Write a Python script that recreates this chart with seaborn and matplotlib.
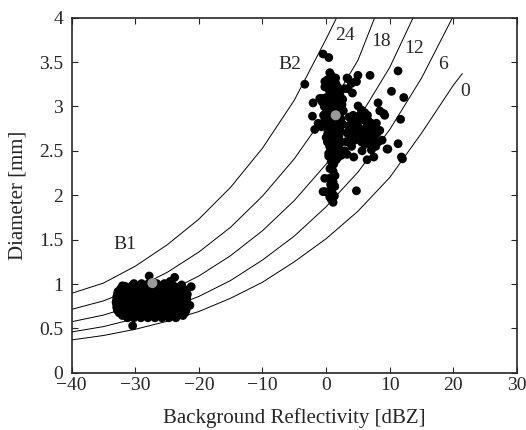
import numpy as np
import pandas as pd
import matplotlib
matplotlib.use("Agg")
import matplotlib.pyplot as plt
import seaborn as sns

# reference curves: background reflectivity [dBZ] -> diameter [mm], one per offset label
curve_labels = ["0", "6", "12", "18", "24"]
curve_dbz = {
    "0":  [-40, -35, -30, -25, -20, -15, -10, -5, 0, 5, 10, 15, 20, 21.4],
    "6":  [-40, -35, -30, -25, -20, -15, -10, -5, 0, 5, 10, 15, 20],
    "12": [-40, -35, -30, -25, -20, -15, -10, -5, 0, 5, 10, 14],
    "18": [-40, -35, -30, -25, -20, -15, -10, -5, 0, 5, 7.8],
    "24": [-40, -35, -30, -25, -20, -15, -10, -5, 0, 2],
}
curve_diam = {
    "0":  [0.37, 0.42, 0.49, 0.58, 0.69, 0.84, 1.02, 1.25, 1.51, 1.82, 2.20, 2.70, 3.24, 3.37],
    "6":  [0.46, 0.52, 0.61, 0.72, 0.86, 1.04, 1.27, 1.54, 1.87, 2.26, 2.74, 3.32, 4.02],
    "12": [0.575, 0.65, 0.76, 0.91, 1.09, 1.32, 1.60, 1.94, 2.35, 2.85, 3.44, 4.05],
    "18": [0.714, 0.81, 0.95, 1.13, 1.36, 1.64, 1.99, 2.41, 2.92, 3.52, 4.03],
    "24": [0.895, 1.01, 1.20, 1.44, 1.73, 2.09, 2.53, 3.07, 3.76, 4.05],
}
# where the curve labels sit
label_dbz = [21.8, 18.4, 13.9, 8.7, 2.9]
label_diam = [3.17, 3.47, 3.65, 3.73, 3.80]

# B1 cluster (dense blob), rows of diameter -> reflectivities
b1_rows = {
    1.005: [-30.2, -29.0, -27.9, -26.6, -25.4, -24.3],
    0.975: [-31.6, -30.6, -29.5, -28.4, -27.3, -26.2, -25.0, -23.9, -22.9],
    0.945: [-32.3, -31.2, -30.1, -29.0, -27.9, -26.8, -25.7, -24.5, -23.4, -22.4],
    0.915: [-32.7, -31.7, -30.6, -29.5, -28.4, -27.3, -26.2, -25.1, -24.0, -22.9, -22.0],
    0.885: [-32.8, -32.2, -31.1, -30.0, -28.9, -27.8, -26.7, -25.6, -24.5, -23.4, -22.4, -21.8],
    0.855: [-32.9, -31.7, -30.6, -29.5, -28.4, -27.3, -26.2, -25.1, -24.0, -22.9, -21.9],
    0.825: [-32.9, -32.2, -31.1, -30.0, -28.9, -27.8, -26.7, -25.6, -24.5, -23.4, -22.4, -21.9],
    0.795: [-33.0, -31.7, -30.6, -29.5, -28.4, -27.3, -26.2, -25.1, -24.0, -22.9, -22.0],
    0.765: [-32.9, -32.2, -31.1, -30.0, -28.9, -27.8, -26.7, -25.6, -24.5, -23.4, -22.4, -21.9],
    0.735: [-32.9, -31.7, -30.6, -29.5, -28.4, -27.3, -26.2, -25.1, -24.0, -22.9, -22.0],
    0.705: [-32.8, -32.1, -31.1, -30.0, -28.9, -27.8, -26.7, -25.6, -24.5, -23.4, -22.4, -22.0],
    0.675: [-32.5, -31.5, -30.5, -29.4, -28.3, -27.2, -26.1, -25.0, -23.9, -22.9, -22.2],
    0.645: [-32.0, -31.0, -29.9, -28.8, -27.7, -26.6, -25.5, -24.4, -23.3, -22.5],
    0.62:  [-31.2, -30.2, -29.1, -28.0, -26.9, -25.8, -24.7, -23.6],
}
b1_extra_dbz = [-27.8, -23.8, -21.2, -21.4, -30.4, -22.7, -32.0, -24.5]
b1_extra_diam = [1.09, 1.075, 0.97, 0.76, 0.53, 0.99, 0.98, 1.03]

# B2 cluster
b2_dbz = [
    0.2, 1.0, 1.8, 0.5, 1.4, 2.2, 0.0, 0.9, 1.7, 2.5, -0.3, 0.6, 1.2, 2.0, 0.3, 0.9, 2.2,
    -0.2, 0.5, 1.9, 2.6, 0.1, 1.0, 1.6, 2.3, 0.4, 1.2, 2.0, 0.7, 1.5, 0.2, 1.1, 1.9, 0.6,
    1.4, 0.9, 1.7, 0.4, 1.2, 2.1, 2.4, 0.0, -0.4, -0.6, 2.7, 1.5, 0.8, 1.3, 0.7, 1.8, 0.3,
    1.1, 1.6, 2.1, 0.8, 1.3, 0.5, 1.6, 2.4,
    -0.2, 0.6, 1.4, 2.2, 0.1, 0.9, 1.7, 2.4, -0.1, 0.7, 1.5, 2.3, 0.3, 1.1, 1.9,
    0.2, 1.0, 1.8, 0.5, 1.3, 2.0, 0.4, 1.2, 1.9, 0.8, 1.5, 0.3, 1.0, 1.7,
    -1.0, -2.05, -2.15, -1.79, -1.26, -0.74, -0.2, 0.57, 1.2, -3.35, -0.48, 0.42, -0.73,
    3.45, 5.0, 4.66, 6.9, 11.3, 3.29, 3.98, 4.77, 3.45, 4.14, 10.27, 12.2, 8.16, 8.43,
    9.06, 9.2, 11.7, 2.9, 2.6,
    5.02, 5.55, 6.07, 5.29, 4.24, 3.98, 4.76, 5.81, 6.60, 7.12, 6.33, 7.38, 7.90, 8.43,
    7.12, 5.81, 5.02, 4.24, 3.72, 4.50, 5.55, 6.33, 6.86, 6.07, 8.17, 7.12, 5.65, 4.34,
    3.30, 6.44, 7.49, 9.58, 11.31, 11.83, 11.99, 4.76, 9.7,
    6.5, 7.5, 5.3, 4.0, 3.5, 3.2, 2.9, 6.8, 5.0, 4.4, 7.8, 8.8,
    3.6, 4.6, 5.6, 6.6, 7.6, 4.1, 5.1, 6.1, 7.1, 3.3, 4.3, 5.4, 6.4, 7.3, 8.0,
    0.6, 1.1, 1.4, 0.5, 1.1, 1.36, 0.9, 0.4, 1.0, 1.3, 0.83, 1.1, 0.7, 1.2, 0.8, -0.22,
    -0.48, -0.21, 0.57,
]
b2_diam = [
    3.30, 3.25, 3.22, 3.18, 3.15, 3.12, 3.10, 3.08, 3.05, 3.02, 3.00, 2.98, 2.96, 2.94,
    2.92, 2.88, 2.87, 2.85, 2.83, 2.82, 2.80, 2.78, 2.76, 2.74, 2.72, 2.70, 2.68, 2.66,
    2.64, 2.62, 2.60, 2.58, 2.56, 2.54, 2.52, 2.48, 2.46, 2.44, 2.42, 2.50, 2.60, 2.65,
    2.90, 3.05, 2.95, 3.32, 3.35, 2.90, 2.80, 2.95, 3.02, 3.12, 2.85, 2.76, 2.70, 2.55,
    2.58, 2.40, 2.45,
    3.22, 3.22, 3.20, 3.18, 3.06, 3.04, 3.02, 3.00, 2.92, 2.90, 2.88, 2.86, 2.80, 2.78, 2.76,
    2.68, 2.66, 2.64, 2.57, 2.55, 2.53, 2.47, 2.45, 2.43, 3.28, 3.26, 2.72, 2.72, 2.70,
    3.09, 3.04, 2.89, 2.74, 2.81, 2.77, 3.28, 3.38, 3.28, 3.25, 3.59, 3.55, 3.09,
    3.31, 3.35, 3.28, 3.35, 3.40, 3.32, 3.26, 3.28, 3.20, 3.15, 3.17, 3.10, 3.04, 2.95,
    2.92, 2.90, 2.855, 3.20, 3.08,
    3.005, 2.96, 2.93, 2.90, 2.90, 2.85, 2.83, 2.85, 2.83, 2.81, 2.77, 2.75, 2.81, 2.73,
    2.70, 2.72, 2.70, 2.73, 2.68, 2.62, 2.60, 2.62, 2.58, 2.57, 2.60, 2.51, 2.50, 2.43,
    2.46, 2.40, 2.43, 2.52, 2.58, 2.43, 2.41, 2.05, 2.52,
    2.90, 2.65, 2.65, 2.55, 2.78, 2.60, 2.50, 2.72, 2.78, 2.76, 2.55, 2.62,
    2.88, 2.88, 2.86, 2.84, 2.78, 2.76, 2.74, 2.70, 2.66, 2.70, 2.64, 2.68, 2.66, 2.60, 2.70,
    2.30, 2.27, 2.22, 2.19, 2.15, 2.10, 2.08, 2.04, 2.02, 1.99, 1.95, 1.92, 2.12, 2.35,
    2.38, 2.19, 2.04, 2.04, 1.98,
]

# cluster means (grey markers)
mean_dbz = [-27.3, 1.5]
mean_diam = [1.01, 2.90]
cluster_names = ["B1", "B2"]
cluster_label_dbz = [-31.6, -5.7]
cluster_label_diam = [1.44, 3.47]

b1_dbz = [x for d, xs in b1_rows.items() for x in xs] + b1_extra_dbz
b1_diam = [d for d, xs in b1_rows.items() for _ in xs] + b1_extra_diam

sns.set_style("ticks")
plt.rcParams["font.family"] = ["Liberation Serif", "DejaVu Serif"]
plt.rcParams["axes.linewidth"] = 1.2
plt.rcParams["xtick.direction"] = "in"
plt.rcParams["ytick.direction"] = "in"

fig, ax = plt.subplots(figsize=(5.26, 4.30), dpi=100)
fig.subplots_adjust(left=0.136, right=0.983, bottom=0.133, top=0.959)

for lab in curve_labels:
    sns.lineplot(x=curve_dbz[lab], y=curve_diam[lab], ax=ax, color="black",
                 linewidth=0.7, sort=False, estimator=None)

pts = pd.DataFrame({"dbz": b1_dbz + b2_dbz, "diam": b1_diam + b2_diam})
sns.scatterplot(data=pts, x="dbz", y="diam", ax=ax, color="black", s=40,
                edgecolor="none", linewidth=0, zorder=3)
sns.scatterplot(x=mean_dbz, y=mean_diam, ax=ax, color="#999999", s=52,
                edgecolor="none", linewidth=0, zorder=4)

for lab, x, y in zip(curve_labels, label_dbz, label_diam):
    ax.text(x, y, lab, ha="center", va="center", fontsize=14)
for name, x, y in zip(cluster_names, cluster_label_dbz, cluster_label_diam):
    ax.text(x, y, name, ha="center", va="center", fontsize=14)

ax.set_xlim(-40, 30)
ax.set_ylim(0, 4)
ax.set_xticks(range(-40, 31, 10))
ax.set_yticks(np.arange(0, 4.01, 0.5))
ax.set_yticklabels(["0", "0.5", "1", "1.5", "2", "2.5", "3", "3.5", "4"])
ax.tick_params(top=True, right=True, labelsize=14, length=4, width=0.8)
ax.tick_params(axis="y", pad=6)
ax.tick_params(axis="x", pad=3)
ax.set_xlabel("Background Reflectivity [dBZ]", fontsize=15, labelpad=10)
ax.set_ylabel("Diameter [mm]", fontsize=15, labelpad=8)

plt.savefig("out.png", dpi=100)
